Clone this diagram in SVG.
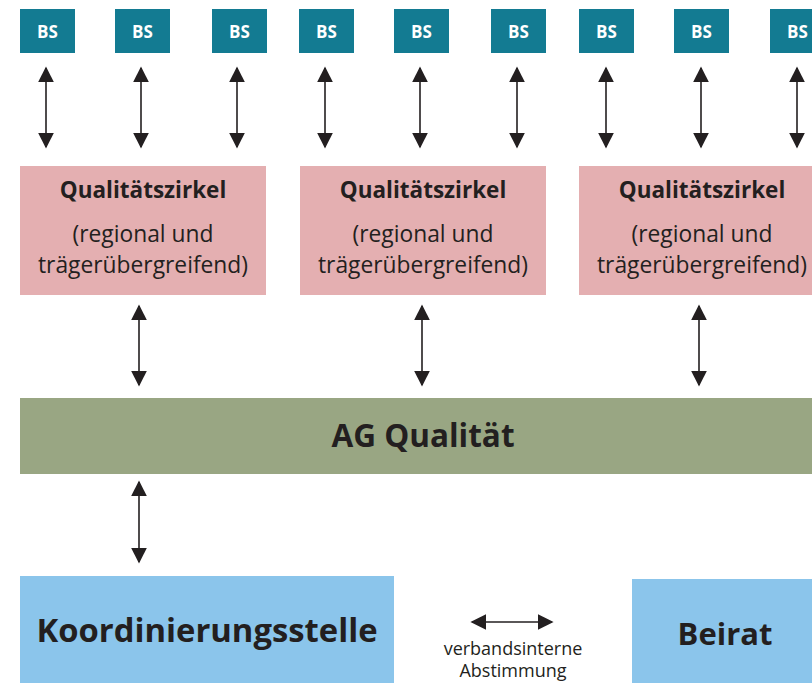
<svg xmlns="http://www.w3.org/2000/svg" width="812" height="683" viewBox="0 0 812 683">
<style>
.bs{fill:#137b92}
.bst{font-family:"Open Sans","Liberation Sans",sans-serif;font-weight:700;font-size:17px;fill:#ffffff;text-anchor:middle}
.qz{fill:#e4afb1}
.ag{fill:#99a683}
.bl{fill:#8bc5eb}
.t{font-family:"Open Sans","Liberation Sans",sans-serif;fill:#231f20;text-anchor:middle}
.b{font-weight:700}
.c{stroke:#231f20;stroke-width:1.6;fill:none}
</style>
<defs>
<marker id="ah" viewBox="0 0 10 10" refX="9" refY="5" markerWidth="16" markerHeight="16" markerUnits="userSpaceOnUse" orient="auto-start-reverse">
<path d="M0,0 L10,5 L0,10 Z" fill="#231f20"/>
</marker>
</defs>
<rect width="812" height="683" fill="#ffffff"/>
<g id="bs1"><rect class="bs" x="20" y="9" width="55" height="44"/><text class="bst" x="47.5" y="37.5">BS</text></g>
<g id="bs2"><rect class="bs" x="115" y="9" width="55" height="44"/><text class="bst" x="142.5" y="37.5">BS</text></g>
<g id="bs3"><rect class="bs" x="212" y="9" width="55" height="44"/><text class="bst" x="239.5" y="37.5">BS</text></g>
<g id="bs4"><rect class="bs" x="299" y="9" width="55" height="44"/><text class="bst" x="326.5" y="37.5">BS</text></g>
<g id="bs5"><rect class="bs" x="394" y="9" width="55" height="44"/><text class="bst" x="421.5" y="37.5">BS</text></g>
<g id="bs6"><rect class="bs" x="491" y="9" width="55" height="44"/><text class="bst" x="518.5" y="37.5">BS</text></g>
<g id="bs7"><rect class="bs" x="579" y="9" width="55" height="44"/><text class="bst" x="606.5" y="37.5">BS</text></g>
<g id="bs8"><rect class="bs" x="674" y="9" width="55" height="44"/><text class="bst" x="701.5" y="37.5">BS</text></g>
<g id="bs9"><rect class="bs" x="770" y="9" width="55" height="44"/><text class="bst" x="797.5" y="37.5">BS</text></g>
<g id="qz1"><rect class="qz" x="20" y="166" width="246" height="129"/>
<text class="t b" x="143" y="198" font-size="22.5">Qualitätszirkel</text>
<text class="t" x="143" y="242" font-size="22.8">(regional und</text>
<text class="t" x="143" y="273" font-size="22.8">trägerübergreifend)</text></g>
<g id="qz2"><rect class="qz" x="300" y="166" width="246" height="129"/>
<text class="t b" x="423" y="198" font-size="22.5">Qualitätszirkel</text>
<text class="t" x="423" y="242" font-size="22.8">(regional und</text>
<text class="t" x="423" y="273" font-size="22.8">trägerübergreifend)</text></g>
<g id="qz3"><rect class="qz" x="579" y="166" width="246" height="129"/>
<text class="t b" x="702" y="198" font-size="22.5">Qualitätszirkel</text>
<text class="t" x="702" y="242" font-size="22.8">(regional und</text>
<text class="t" x="702" y="273" font-size="22.8">trägerübergreifend)</text></g>
<g id="ag"><rect class="ag" x="20" y="398" width="792" height="76"/>
<text class="t b" x="423" y="447" font-size="31.5">AG Qualität</text></g>
<g id="koord"><rect class="bl" x="20" y="576" width="374" height="107"/>
<text class="t b" x="207" y="642" font-size="32.8">Koordinierungsstelle</text></g>
<g id="beirat"><rect class="bl" x="632" y="579" width="180" height="104"/>
<text class="t b" x="725" y="645" font-size="31">Beirat</text></g>
<g id="legend">
<text class="t" x="513" y="655" font-size="18">verbandsinterne</text>
<text class="t" x="513" y="677" font-size="18">Abstimmung</text>
</g>
<g id="connectors">
<line class="c" x1="46" y1="68" x2="46" y2="147" marker-start="url(#ah)" marker-end="url(#ah)"/>
<line class="c" x1="141" y1="68" x2="141" y2="147" marker-start="url(#ah)" marker-end="url(#ah)"/>
<line class="c" x1="237" y1="68" x2="237" y2="147" marker-start="url(#ah)" marker-end="url(#ah)"/>
<line class="c" x1="325" y1="68" x2="325" y2="147" marker-start="url(#ah)" marker-end="url(#ah)"/>
<line class="c" x1="420" y1="68" x2="420" y2="147" marker-start="url(#ah)" marker-end="url(#ah)"/>
<line class="c" x1="517" y1="68" x2="517" y2="147" marker-start="url(#ah)" marker-end="url(#ah)"/>
<line class="c" x1="606" y1="68" x2="606" y2="147" marker-start="url(#ah)" marker-end="url(#ah)"/>
<line class="c" x1="701" y1="68" x2="701" y2="147" marker-start="url(#ah)" marker-end="url(#ah)"/>
<line class="c" x1="797" y1="68" x2="797" y2="147" marker-start="url(#ah)" marker-end="url(#ah)"/>
<line class="c" x1="139" y1="306" x2="139" y2="385" marker-start="url(#ah)" marker-end="url(#ah)"/>
<line class="c" x1="422" y1="306" x2="422" y2="385" marker-start="url(#ah)" marker-end="url(#ah)"/>
<line class="c" x1="699" y1="306" x2="699" y2="385" marker-start="url(#ah)" marker-end="url(#ah)"/>
<line class="c" x1="139" y1="482" x2="139" y2="562" marker-start="url(#ah)" marker-end="url(#ah)"/>
<line class="c" x1="472" y1="622" x2="552" y2="622" marker-start="url(#ah)" marker-end="url(#ah)"/>
</g>
</svg>
